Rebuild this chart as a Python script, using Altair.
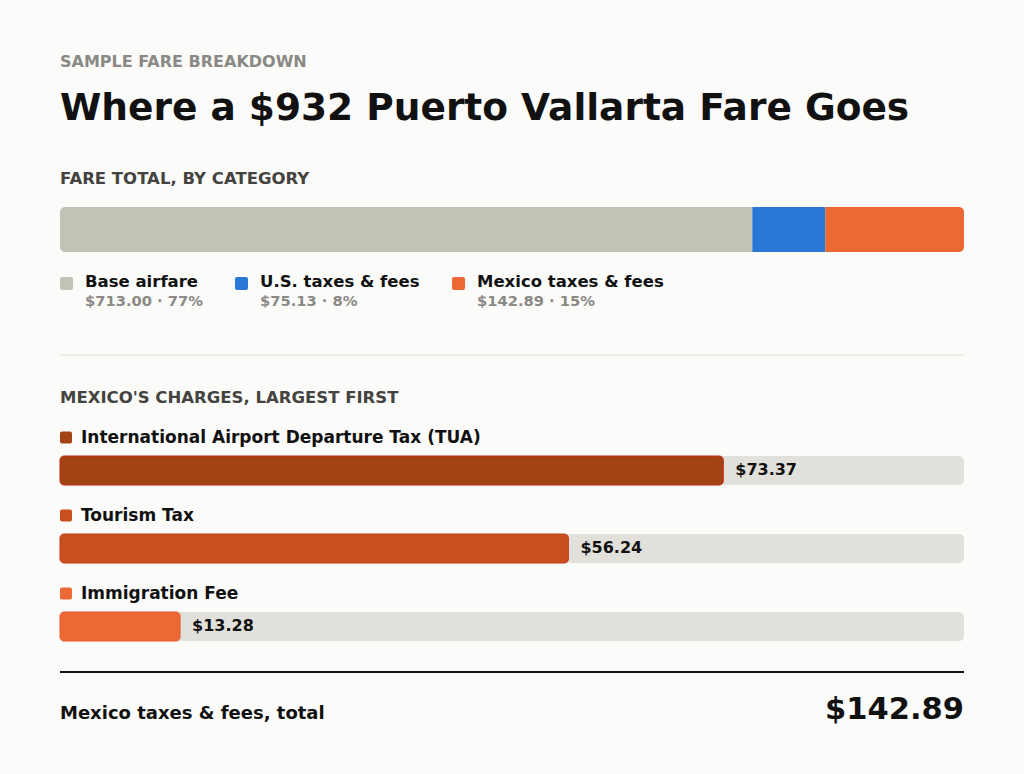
import altair as alt
import pandas as pd

# --- data ---
CATEGORIES = ["Base airfare", "U.S. taxes & fees", "Mexico taxes & fees"]
AMOUNTS = [713.00, 75.13, 142.89]
CHARGES = ["International Airport Departure Tax (TUA)", "Tourism Tax", "Immigration Fee"]
CHARGE_AMOUNTS = [73.37, 56.24, 13.28]
FARE_HEADLINE = "$932"
ROUTE = "Puerto Vallarta"

# --- styling / layout ---
FONT = "DejaVu Sans"
BG = "#fbfbf9"
INK = "#111111"
MUTED = "#8a8985"
SECTION = "#44433f"
CAT_COLORS = ["#c3c2b6", "#2a78d6", "#ec6934"]
CHARGE_COLORS = ["#a34212", "#c9501e", "#ec6934"]
CHARGE_STROKES = ["#b8281a", "#c43a1c", "#e45a2a"]
TRACK = "#e1e0da"
CHARGE_SCALE_MAX = 100

W, H = 1008, 758
LEFT, RIGHT = 52, 956
LEGEND_X = [52, 227, 444]
ROW_TOP, ROW_STEP, BAR_H = 448, 78, 29

total = sum(AMOUNTS)
fare = pd.DataFrame({"category": CATEGORIES, "amount": AMOUNTS})
fare["end"] = fare["amount"].cumsum()
fare["start"] = fare["end"] - fare["amount"]
fare["share"] = (fare["amount"] / total * 100).round().astype(int)
fare["sub"] = fare.apply(lambda r: f"${r['amount']:,.2f} \u00b7 {r['share']}%", axis=1)
fare["lx"] = LEGEND_X

charges = pd.DataFrame({"charge": CHARGES, "amount": CHARGE_AMOUNTS})
charges["row"] = range(len(charges))
charges["bar_top"] = ROW_TOP + charges["row"] * ROW_STEP
charges["bar_bottom"] = charges["bar_top"] + BAR_H
charges["label_y"] = charges["bar_top"] - 18.5
charges["zero"] = 0
charges["track_end"] = CHARGE_SCALE_MAX
charges["value_label"] = charges["amount"].map(lambda v: f"${v:,.2f}")
mexico_total = fare.loc[fare["category"] == "Mexico taxes & fees", "amount"].iloc[0]

fare_x = alt.Scale(domain=[0, total], range=[LEFT, RIGHT])
charge_x = alt.Scale(domain=[0, CHARGE_SCALE_MAX], range=[LEFT, RIGHT])
cat_color = alt.Scale(domain=CATEGORIES, range=CAT_COLORS)
charge_color = alt.Scale(domain=CHARGES, range=CHARGE_COLORS)

base = alt.Chart(pd.DataFrame({"k": [0]}))


def text_at(text, x, y, size, color, align="left", weight="bold"):
    return base.mark_text(
        text=text, align=align, baseline="middle", font=FONT, fontSize=size,
        fontWeight=weight, color=color,
    ).encode(x=alt.value(x), y=alt.value(y))


headers = [
    text_at("SAMPLE FARE BREAKDOWN", LEFT, 54, 16, MUTED),
    text_at(f"Where a {FARE_HEADLINE} {ROUTE} Fare Goes", LEFT, 101, 37.5, INK),
    text_at("FARE TOTAL, BY CATEGORY", LEFT, 171, 16.5, SECTION),
    text_at("MEXICO'S CHARGES, LARGEST FIRST", LEFT, 390, 16.5, SECTION),
    text_at("Mexico taxes & fees, total", LEFT, 706, 18, INK),
    text_at(f"${mexico_total:,.2f}", RIGHT, 702, 30.5, INK, align="right"),
]

# stacked fare bar: rounded only at the outer ends
corner = [
    {"cornerRadiusTopLeft": 5, "cornerRadiusBottomLeft": 5},
    {},
    {"cornerRadiusTopRight": 5, "cornerRadiusBottomRight": 5},
]
fare_bars = []
for cat, extra in zip(CATEGORIES, corner):
    fare_bars.append(
        alt.Chart(fare)
        .transform_filter(alt.datum.category == cat)
        .mark_bar(**extra)
        .encode(
            x=alt.X("start:Q", scale=fare_x, axis=None),
            x2="end:Q",
            y=alt.value(199),
            y2=alt.value(244),
            color=alt.Color("category:N", scale=cat_color, legend=None),
        )
    )

legend_swatch = (
    alt.Chart(fare)
    .mark_rect(cornerRadius=2)
    .encode(
        x=alt.X("lx:Q", scale=None, axis=None),
        x2=alt.X2("sw_end:Q"),
        y=alt.value(269),
        y2=alt.value(282),
        color=alt.Color("category:N", scale=cat_color, legend=None),
    )
    .transform_calculate(sw_end="datum.lx + 13")
)
legend_label = (
    alt.Chart(fare)
    .mark_text(align="left", baseline="middle", font=FONT, fontSize=16.5, fontWeight="bold", color=INK, dx=25)
    .encode(x=alt.X("lx:Q", scale=None, axis=None), y=alt.value(274), text="category:N")
)
legend_sub = (
    alt.Chart(fare)
    .mark_text(align="left", baseline="middle", font=FONT, fontSize=14.7, fontWeight="bold", color=MUTED, dx=25)
    .encode(x=alt.X("lx:Q", scale=None, axis=None), y=alt.value(294), text="sub:N")
)

divider = base.mark_rule(color="#e2e1dc", strokeWidth=1).encode(
    x=alt.value(LEFT), x2=alt.value(RIGHT), y=alt.value(347)
)
total_rule = base.mark_rule(color=INK, strokeWidth=2).encode(
    x=alt.value(LEFT), x2=alt.value(RIGHT), y=alt.value(664)
)

charge_swatch = (
    alt.Chart(charges)
    .mark_rect(cornerRadius=2)
    .transform_calculate(sy0="datum.label_y - 6", sy1="datum.label_y + 6")
    .encode(
        x=alt.value(LEFT),
        x2=alt.value(LEFT + 12),
        y=alt.Y("sy0:Q", scale=None, axis=None),
        y2="sy1:Q",
        color=alt.Color("charge:N", scale=charge_color, legend=None),
    )
)
charge_label = (
    alt.Chart(charges)
    .mark_text(align="left", baseline="middle", font=FONT, fontSize=17, fontWeight="bold", color=INK)
    .encode(x=alt.value(LEFT + 21), y=alt.Y("label_y:Q", scale=None, axis=None), text="charge:N")
)
track = (
    alt.Chart(charges)
    .mark_bar(color=TRACK, cornerRadius=5)
    .encode(
        x=alt.X("zero:Q", scale=charge_x, axis=None),
        x2="track_end:Q",
        y=alt.Y("bar_top:Q", scale=None, axis=None),
        y2="bar_bottom:Q",
    )
)
charge_bars = (
    alt.Chart(charges)
    .mark_bar(cornerRadius=4, strokeWidth=1)
    .encode(
        x=alt.X("zero:Q", scale=charge_x, axis=None),
        x2="amount:Q",
        y=alt.Y("bar_top:Q", scale=None, axis=None),
        y2="bar_bottom:Q",
        color=alt.Color("charge:N", scale=charge_color, legend=None),
        stroke=alt.Stroke("charge:N", scale=alt.Scale(domain=CHARGES, range=CHARGE_STROKES), legend=None),
    )
)
charge_values = (
    alt.Chart(charges)
    .transform_calculate(mid="datum.bar_top + 14")
    .mark_text(align="left", baseline="middle", font=FONT, fontSize=16, fontWeight="bold", color=INK, dx=12)
    .encode(
        x=alt.X("amount:Q", scale=charge_x, axis=None),
        y=alt.Y("mid:Q", scale=None, axis=None),
        text="value_label:N",
    )
)

chart = (
    alt.layer(
        *headers, *fare_bars, legend_swatch, legend_label, legend_sub, divider,
        charge_swatch, charge_label, track, charge_bars, charge_values, total_rule,
    )
    .resolve_scale(x="independent", y="independent", color="independent", stroke="independent")
    .properties(width=W, height=H, autosize=alt.AutoSizeParams(type="none"), padding=0, background=BG)
    .configure_view(stroke=None)
)

chart.save(
    "out.html",
    embed_options={"renderer": "svg", "actions": False, "defaultStyle": f"body {{ background: {BG}; }}"},
)
